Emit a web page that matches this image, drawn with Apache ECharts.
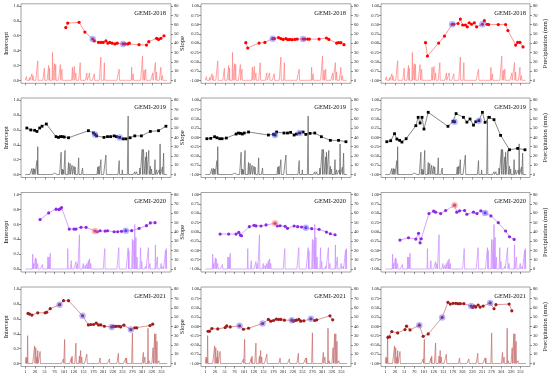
<!DOCTYPE html>
<html><head><meta charset="utf-8">
<script src="https://cdn.jsdelivr.net/npm/echarts@6/dist/echarts.min.js"></script>
<style>html,body{margin:0;padding:0;background:#fff}#c{width:550px;height:378px}</style>
</head><body><div id="c"></div><script>
const xTickDays = [1,26,51,76,101,126,151,176,201,226,251,276,301,326,351];
const interceptTicks = [0,0.2,0.4,0.6,0.8,1.0];
const slopeTicks = [-1,-0.75,-0.5,-0.25,0,0.25,0.5,0.75,1];
const precipTicks = [0,10,20,30,40,50,60,70,80];
const panelTitles = ['GEMI-2018','GEMI-2019','GEMI-2020','GEMI-2021'];
const axisNames = ['Intercept','Slope','Precipitation (mm)'];

// ---- 2018 ----
const days2018 = [105,110,139,154,174,178,189,195,201,208,213,218,224,231,237,252,257,264,268,293,312,318,338,343,349,357];
const intercept2018 = [0.71,0.77,0.78,0.65,0.556,0.53,0.51,0.51,0.51,0.53,0.50,0.51,0.50,0.49,0.50,0.49,0.49,0.49,0.50,0.48,0.475,0.52,0.565,0.55,0.565,0.60];
const slope2018 = [0.013,-0.13,0.004,0.02,0.12,0.12,0.15,0.12,0.10,0.12,0.094,0.10,0.094,0.10,0.11,0.11,0.11,0.11,0.11,0.11,0.14,0.10,0.004,0.013,0.013,-0.04];
const slopeB2018 = [0.013,-0.345,0.004,0.19,0.51,0.51,0.53,0.65,0.49,0.49,0.44,0.55,0.51,0.55,0.44,0.51,0.605,0.51,0.50,0.50,0.50,0.34,-0.05,0.02,0.02,-0.10];
const highlight2018 = [174,252];
const precip2018 = [[4,4],[12,3],[18,7],[21,5],[33,21],[50,13],[61,16],[63,13],[71,30],[76,18],[79,17],[91,17],[95,12],[122,14],[127,15],[131,8],[142,19],[159,8],[166,8],[178,7],[195,25],[204,19],[218,2],[227,1.5],[237,2],[242,12],[274,14],[278,7],[302,26],[306,11],[310,12],[328,8],[335,19],[338,9],[349,14],[353,5]];

// ---- 2019 ----
const days2019 = [5,15,25,31,38,44,55,80,86,91,96,101,112,163,176,180,184,203,212,220,229,235,243,252,259,270,282,299,322,343,362];
const intercept2019 = [0.626,0.60,0.595,0.58,0.626,0.65,0.68,0.51,0.50,0.51,0.51,0.505,0.495,0.59,0.56,0.54,0.52,0.50,0.51,0.51,0.52,0.51,0.50,0.48,0.48,0.495,0.52,0.52,0.58,0.59,0.65];
const slope2019 = [-0.036,-0.027,0.018,-0.01,-0.036,-0.036,-0.018,0.09,0.117,0.108,0.09,0.117,0.144,0.063,0.081,0.063,0.144,0.117,0.117,0.135,0.063,0.09,0.117,0.144,0.081,0.108,0.117,0.018,-0.08,-0.08,-0.117];
const slopeB2019 = [-0.117,-0.09,0.099,-0.045,-0.081,-0.126,-0.036,0.315,0.54,0.387,0.54,0.225,0.675,0.297,0.43,0.42,0.64,0.54,0.41,0.495,0.33,0.42,0.45,0.675,0.405,0.54,0.477,0.054,-0.333,-0.297,-0.333];
const highlight2019 = [180,243];
const precip2019 = [[18,6.5],[22,6.5],[25,6],[31,15],[33,30],[73,1.5],[76,1.5],[93,24],[96,6],[99,5],[103,26],[112,13],[116,12],[121,10],[126,9],[129,8],[138,18],[148,7],[187,8],[190,9],[195,16],[208,21],[242,15],[250,5],[265,63],[282,3],[287,3],[295,7],[301,27],[304,27],[305,23],[310,19],[312,24],[318,26],[322,9],[325,6],[334,16],[338,5],[345,5],[347,33],[353,8],[356,23]];

// ---- 2020 ----
const days2020 = [39,61,80,87,91,94,114,126,131,144,157,180,186,193,206,212,229,238,248,259,274,293,312,322,334];
const intercept2020 = [0.665,0.755,0.805,0.80,0.81,0.828,0.538,0.538,0.538,0.561,0.561,0.511,0.502,0.515,0.511,0.515,0.502,0.502,0.507,0.516,0.516,0.547,0.584,0.62,0.624];
const slope2020 = [-0.059,-0.059,-0.059,-0.014,-0.086,-0.104,0.14,0.176,0.16,0.158,0.186,0.23,0.158,0.165,0.149,0.095,0.158,0.14,0.131,0.113,0.086,0.068,-0.005,-0.05,-0.077];
const slopeB2020 = [-0.22,-0.158,-0.195,-0.04,-0.294,-0.185,0.493,0.557,0.53,0.493,0.575,0.72,0.53,0.566,0.575,0.475,0.53,0.493,0.566,0.511,0.43,0.249,0.023,-0.131,-0.204];
const highlight2020 = [180,259];
const precip2020 = [[20,16],[22,6],[27,12],[29,11],[33,6],[45,5],[59,13],[62,13],[65,17],[82,1],[110,22],[119,9],[131,8],[135,6],[140,37],[150,6],[155,4],[159,6],[163,9],[166,11],[169,6],[184,1],[205,22],[229,1.5],[241,23],[255,1],[265,23],[267,20],[276,32],[280,31],[282,48],[285,34],[288,13],[297,23],[300,8],[310,3],[317,23],[321,6],[335,26],[340,13],[350,6],[355,3],[361,20],[363,22]];

// ---- 2021 ----
const days2021 = [8,12,18,33,52,56,65,89,99,112,148,163,169,176,183,189,195,204,223,227,231,235,241,246,254,272,282,287,321,328];
const intercept2021 = [0.674,0.665,0.652,0.683,0.683,0.69,0.738,0.792,0.846,0.846,0.643,0.52,0.525,0.525,0.543,0.52,0.52,0.502,0.493,0.502,0.50,0.502,0.502,0.493,0.516,0.457,0.48,0.48,0.511,0.53];
const slope2021 = [-0.131,-0.131,-0.059,-0.068,-0.032,0.014,-0.014,0.014,-0.077,-0.05,0.077,0.186,0.14,0.158,0.195,0.186,0.186,0.167,0.167,0.14,0.158,0.167,0.186,0.14,0.149,0.204,0.158,0.176,0.285,0.176];
const slopeB2021 = [-0.294,-0.285,-0.14,-0.176,-0.086,0.005,-0.095,0.032,-0.267,-0.204,0.24,0.647,0.60,0.62,0.62,0.61,0.61,0.61,0.547,0.511,0.547,0.52,0.575,0.52,0.547,0.63,0.475,0.584,0.60,0.42];
const highlight2021 = [89,148,223,272];
const precip2021 = [[3,7],[5,6],[7,30],[25,19],[28,17],[31,7],[33,14],[39,13],[99,5],[102,26],[119,6],[121,8],[131,22],[140,8],[143,14],[146,7],[159,10],[193,6],[217,5],[240,11],[259,6],[261,6],[276,33],[304,12],[308,7],[316,38],[319,3],[329,17],[333,32],[336,32],[339,24],[344,3]];

const BLUE = 'rgba(90,90,255,0.55)', ORANGE = 'rgba(255,110,80,0.6)';
const rows = [
  {days:days2018, cols:[intercept2018,slope2018,slopeB2018], hl:highlight2018, hlCol:[BLUE,BLUE], precip:precip2018, pt:'#ff0000', ln:'#ff6b6b', pc:'#ff8080', sym:'circle'},
  {days:days2019, cols:[intercept2019,slope2019,slopeB2019], hl:highlight2019, hlCol:[BLUE,BLUE], precip:precip2019, pt:'#000000', ln:'#555555', pc:'#606060', sym:'rect'},
  {days:days2020, cols:[intercept2020,slope2020,slopeB2020], hl:highlight2020, hlCol:[ORANGE,BLUE], precip:precip2020, pt:'#8a2be2', ln:'#c77dff', pc:'#c98aff', sym:'circle'},
  {days:days2021, cols:[intercept2021,slope2021,slopeB2021], hl:highlight2021, hlCol:[BLUE,BLUE,BLUE,BLUE], precip:precip2021, pt:'#a01c1c', ln:'#d06a6a', pc:'#c46a6a', sym:'circle'}
];

const FF = "'Liberation Serif','Times New Roman',serif";
const colLeft = [21,201,381], W = 150;
const rowTop = [3.8,98,192.5,287], H = 79.5;
const titleRight = [384,204,24];

function daily(sparse){
  const m = {}; sparse.forEach(p => m[p[0]] = p[1]);
  const out = [];
  for (let d = 1; d <= 365; d++) out.push([d, m[d] !== undefined ? m[d] : 0]);
  return out;
}

const grid = [], xAxis = [], yAxis = [], series = [], title = [];
rows.forEach((row, r) => {
  const pd = daily(row.precip);
  for (let c = 0; c < 3; c++) {
    const idx = r*3 + c;
    grid.push({left: colLeft[c], top: rowTop[r], width: W, height: H, show: true, borderColor: '#8c8c8c', borderWidth: 0.8, backgroundColor: '#fff'});
    title.push({text: panelTitles[r], right: titleRight[c], top: rowTop[r] + 5.5, padding: 0,
      textStyle: {fontSize: 6.5, fontWeight: 'normal', fontFamily: FF, color: '#111'}});
    xAxis.push({type: 'value', gridIndex: idx, min: -10, max: 375, position: 'bottom',
      axisLine: {show: false, onZero: false}, splitLine: {show: false},
      axisTick: {show: true, length: 2, customValues: xTickDays, lineStyle: {color: '#444', width: 0.6}},
      axisLabel: {show: r === 3, customValues: xTickDays, fontSize: 4.5, margin: 3, color: '#222', fontFamily: FF}});
    const isInt = c === 0;
    yAxis.push({type: 'value', gridIndex: idx, position: 'left',
      min: isInt ? -0.04 : -1.08, max: isInt ? 1.03 : 1.06,
      axisLine: {show: false, onZero: false}, splitLine: {show: false},
      axisTick: {show: true, length: 2, customValues: isInt ? interceptTicks : slopeTicks, lineStyle: {color: '#444', width: 0.6}},
      axisLabel: {customValues: isInt ? interceptTicks : slopeTicks, fontSize: 4.5, margin: 2, color: '#222', fontFamily: FF,
        formatter: v => isInt ? Number(v).toFixed(1) : Number(v).toFixed(2)},
      name: c < 2 ? axisNames[c] : '', nameLocation: 'middle', nameGap: c === 0 ? 11 : 15, nameRotate: 90,
      nameTextStyle: {fontSize: 6.5, fontFamily: FF, color: '#111'}});
    yAxis.push({type: 'value', gridIndex: idx, position: 'right', min: -3.2, max: 82.4,
      axisLine: {show: false, onZero: false}, splitLine: {show: false},
      axisTick: {show: true, length: 2, customValues: precipTicks, lineStyle: {color: '#444', width: 0.6}},
      axisLabel: {customValues: precipTicks, fontSize: 4.5, margin: 3, color: '#222', fontFamily: FF},
      name: c === 2 ? axisNames[2] : '', nameLocation: 'middle', nameGap: 12, nameRotate: 90,
      nameTextStyle: {fontSize: 6.5, fontFamily: FF, color: '#111'}});
    series.push({type: 'line', xAxisIndex: idx, yAxisIndex: idx*2+1, data: pd, showSymbol: false, silent: true,
      lineStyle: {width: 0.7, color: row.pc}, z: 1});
    const vals = row.cols[c];
    series.push({type: 'line', xAxisIndex: idx, yAxisIndex: idx*2, data: row.days.map((d,i) => [d, vals[i]]),
      symbol: row.sym, symbolSize: row.sym === 'rect' ? 2.8 : 3.2, showAllSymbol: true,
      itemStyle: {color: row.pt}, lineStyle: {width: 0.7, color: row.ln}, z: 3});
    series.push({type: 'scatter', xAxisIndex: idx, yAxisIndex: idx*2,
      data: row.hl.map((d,k) => ({value: [d, vals[row.days.indexOf(d)]], itemStyle: {color: row.hlCol[k]}})),
      symbolSize: 6.5, z: 4});
  }
});

const chart = echarts.init(document.getElementById('c'), null, {renderer: 'canvas'});
chart.setOption({animation: false, backgroundColor: '#fff', title, grid, xAxis, yAxis, series});
</script></body></html>
